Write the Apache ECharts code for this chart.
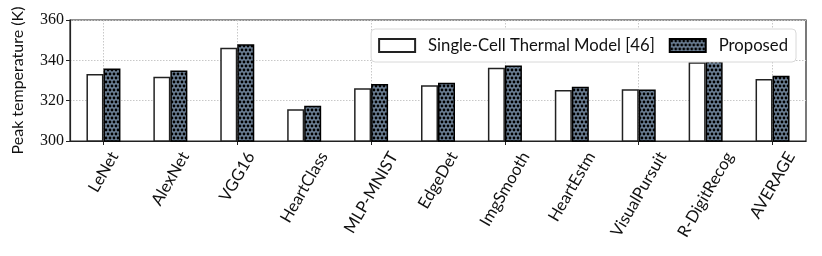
<!DOCTYPE html>
<html><head><meta charset="utf-8">
<script src="https://cdn.jsdelivr.net/npm/echarts@6/dist/echarts.min.js"></script>
<style>html,body{margin:0;padding:0;background:#fff}#c{width:822px;height:256px}</style>
</head><body><div id="c"></div>
<script>
const categories = ['LeNet','AlexNet','VGG16','HeartClass','MLP-MNIST','EdgeDet','ImgSmooth','HeartEstm','VisualPursuit','R-DigitRecog','AVERAGE'];
const singleCell = [333.2, 331.8, 346.3, 315.7, 326.1, 327.6, 336.3, 325.3, 325.6, 339.0, 330.7];
const proposed  = [335.9, 335.0, 348.0, 317.5, 328.3, 328.9, 337.5, 326.9, 325.5, 340.5, 332.4];
const seriesNames = ['Single-Cell Thermal Model [46]', 'Proposed'];
const yTicks = [300, 320, 340, 360];

function makePattern(){
  const c = document.createElement('canvas');
  c.width = 8; c.height = 8;
  const g = c.getContext('2d');
  g.fillStyle = '#6d8196';
  g.fillRect(0,0,8,8);
  g.fillStyle = '#000';
  [[2,2],[6,2],[0,6],[4,6],[8,6]].forEach(p=>{g.beginPath();g.arc(p[0],p[1],1.4,0,Math.PI*2);g.fill();});
  return c;
}
const pat = {image: makePattern(), repeat: 'repeat'};

const chart = echarts.init(document.getElementById('c'), null, {renderer:'canvas'});
const sans = 'Lato, "Open Sans", sans-serif';
const serif = '"Liberation Serif", "DejaVu Serif", serif';
const labelFont = 16.5;
const gridTop = 20, gridBottom = 115;
chart.setOption({
  animation: false,
  grid: {left: 70, right: 16, top: gridTop, bottom: gridBottom, show: true, borderColor: '#222', borderWidth: 1.2, backgroundColor: 'transparent'},
  legend: {
    data: seriesNames, right: 26, top: 29, orient: 'horizontal', icon: 'rect',
    itemWidth: 36, itemHeight: 13, itemGap: 14,
    backgroundColor: '#fff', borderColor: '#d8d8d8', borderWidth: 1, borderRadius: 4,
    padding: [8, 8, 8, 7],
    textStyle: {fontFamily: sans, fontSize: 16.7, color: '#111', padding: [0,0,0,8]}
  },
  xAxis: {
    type: 'category', data: categories,
    axisLine: {show: true, lineStyle: {color: '#222', width: 1.2}},
    axisTick: {show: true, alignWithLabel: true, length: 4, lineStyle: {color: '#222'}},
    splitLine: {show: true, alignWithLabel: true, lineStyle: {color: '#c8c8c8', type: [1.5, 1.5], width: 1}},
    axisLabel: {show: false}
  },
  yAxis: {
    type: 'value', min: yTicks[0], max: yTicks[yTicks.length-1], interval: 20,
    name: 'Peak temperature (K)', nameLocation: 'middle', nameGap: 44,
    nameTextStyle: {fontFamily: sans, fontSize: 16, color: '#111'},
    axisLine: {show: true, lineStyle: {color: '#222', width: 1.2}},
    axisTick: {show: true, length: 4, lineStyle: {color: '#222'}},
    splitLine: {show: true, lineStyle: {color: '#c8c8c8', type: [1.5, 1.5], width: 1}},
    axisLabel: {fontFamily: serif, fontSize: 16, color: '#111', margin: 6}
  },
  series: [
    {name: seriesNames[0], type: 'bar', data: singleCell, barWidth: 17, barGap: '0%',
     itemStyle: {color: '#fff', borderColor: '#222', borderWidth: 1.5}},
    {name: seriesNames[1], type: 'bar', data: proposed, barWidth: 17,
     itemStyle: {color: pat, borderColor: '#000', borderWidth: 1.5}}
  ]
});

// Rotated category labels, horizontally centred on each tick (like matplotlib ha='center')
const mc = document.createElement('canvas').getContext('2d');
mc.font = labelFont + 'px ' + sans;
const ang = Math.PI / 3;
const axisY = chart.convertToPixel({yAxisIndex: 0}, yTicks[0]);
const h = labelFont * 0.8;
const labels = categories.map(function(name){
  const x = chart.convertToPixel({xAxisIndex: 0}, name);
  const L = mc.measureText(name).width;
  const vext = L * Math.sin(ang) + h * Math.cos(ang);
  return {
    type: 'text', x: x, y: axisY + 9 + vext / 2, rotation: ang, silent: true,
    style: {text: name, font: labelFont + 'px ' + sans, fill: '#111', align: 'center', verticalAlign: 'middle'}
  };
});
chart.setOption({graphic: labels});
</script></body></html>
